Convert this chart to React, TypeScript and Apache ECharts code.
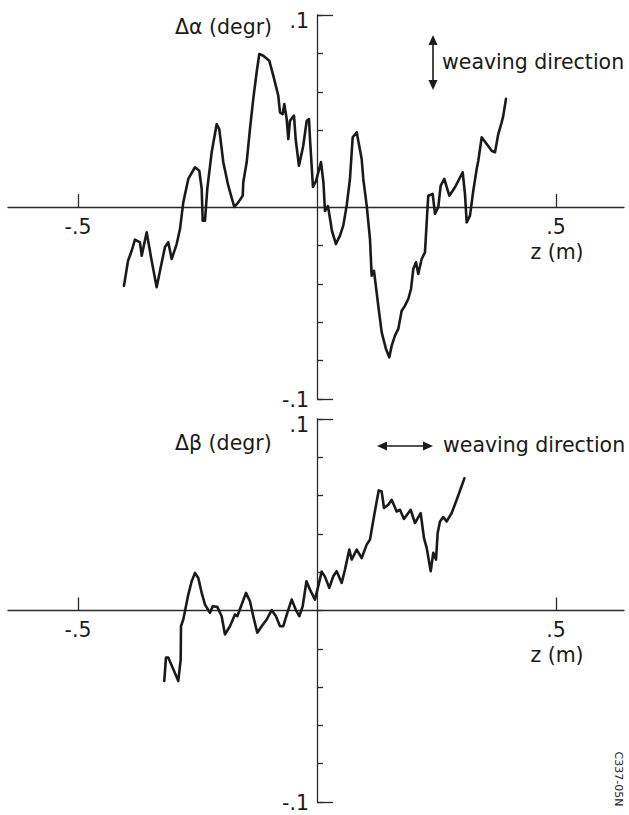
import { useEffect, useRef } from "react";
import * as echarts from "echarts";

// ---- data (z in m, angle deviation in degr) ----
const alphaZ = [
  -0.4038, -0.3954, -0.3877, -0.3808, -0.3703, -0.3667, -0.3563, -0.3473, -0.3354, -0.3285,
  -0.318, -0.3111, -0.304, -0.2935, -0.2866, -0.2797, -0.2692, -0.2552, -0.2462, -0.2412,
  -0.2391, -0.2343, -0.2295, -0.2203, -0.2098, -0.2044, -0.196, -0.1856, -0.173, -0.1646,
  -0.1554, -0.1542, -0.1471, -0.1402, -0.1333, -0.1262, -0.1207, -0.1123, -0.0998, -0.0914,
  -0.081, -0.0774, -0.0718, -0.0684, -0.0634, -0.06, -0.0565, -0.0481, -0.0446, -0.0377,
  -0.0287, -0.0215, -0.0167, -0.0146, -0.0084, -0.0021, 0.0084, 0.0136, 0.0167, 0.023,
  0.0314, 0.0397, 0.0481, 0.055, 0.0621, 0.069, 0.0747, 0.0831, 0.0935, 0.0969,
  0.104, 0.1109, 0.1144, 0.1192, 0.1282, 0.1354, 0.1444, 0.1513, 0.1563, 0.1632,
  0.1701, 0.1772, 0.1841, 0.191, 0.1967, 0.2015, 0.2071, 0.2119, 0.219, 0.2259,
  0.2295, 0.2328, 0.242, 0.2469, 0.2538, 0.2588, 0.2663, 0.2768, 0.2887, 0.3048,
  0.3096, 0.3132, 0.3201, 0.327, 0.3341, 0.3375, 0.3446, 0.355, 0.3655, 0.3724,
  0.3793, 0.3864, 0.3898, 0.3954,
];
const alphaV = [
  -0.0411, -0.0281, -0.0228, -0.017, -0.0184, -0.0254, -0.0132, -0.026, -0.0418, -0.0333,
  -0.0208, -0.0184, -0.0271, -0.0193, -0.0115, 0.0024, 0.0146, 0.0207, 0.0189, 0.0094,
  -0.0071, -0.0071, 0.0094, 0.0285, 0.0432, 0.0406, 0.0233, 0.0111, 0.0, 0.0024,
  0.0059, 0.0129, 0.0233, 0.0406, 0.0563, 0.0702, 0.0797, 0.0788, 0.0762, 0.0684,
  0.058, 0.0493, 0.0484, 0.0536, 0.0458, 0.0354, 0.0449, 0.0476, 0.0354, 0.0215,
  0.0319, 0.0449, 0.0458, 0.0354, 0.0104, 0.0135, 0.0234, 0.0125, -0.0021, 0.0005,
  -0.0125, -0.0193, -0.0149, -0.0097, 0.0007, 0.0146, 0.0363, 0.0389, 0.025, 0.0146,
  0.0007, -0.0167, -0.0358, -0.0332, -0.0514, -0.0653, -0.074, -0.0783, -0.0722, -0.067,
  -0.0635, -0.054, -0.0514, -0.0479, -0.0427, -0.0323, -0.0288, -0.0349, -0.0271, -0.0236,
  -0.008, 0.0059, 0.0068, -0.0036, 0.0, 0.0111, 0.0146, 0.0059, 0.0103, 0.0181,
  0.0068, -0.008, -0.0045, 0.0085, 0.0198, 0.0241, 0.0363, 0.0328, 0.0293, 0.0285,
  0.038, 0.0441, 0.0476, 0.0563,
];
const betaZ = [
  -0.3195, -0.3159, -0.3111, -0.3006, -0.2902, -0.2851, -0.2845, -0.2797, -0.2762, -0.2692,
  -0.2621, -0.2552, -0.2483, -0.2412, -0.2343, -0.2238, -0.2182, -0.2086, -0.2029, -0.1994,
  -0.1925, -0.182, -0.1715, -0.1667, -0.1575, -0.1485, -0.1402, -0.1333, -0.1249, -0.1157,
  -0.1052, -0.0948, -0.0858, -0.0774, -0.0705, -0.0621, -0.0529, -0.0446, -0.037, -0.0299,
  -0.022, -0.0146, -0.0042, 0.0027, 0.0098, 0.0167, 0.0257, 0.0341, 0.0412, 0.0517,
  0.0586, 0.0676, 0.0726, 0.0831, 0.0935, 0.104, 0.1109, 0.1192, 0.1291, 0.1354,
  0.1402, 0.1492, 0.1563, 0.1667, 0.1736, 0.182, 0.196, 0.205, 0.2169, 0.2238,
  0.2295, 0.2379, 0.2433, 0.249, 0.2525, 0.2573, 0.2642, 0.2713, 0.2818, 0.2923,
  0.3086,
];
const betaV = [
  -0.0368, -0.0246, -0.0246, -0.0307, -0.0368, -0.0255, -0.0082, -0.0047, -0.0004, 0.0083,
  0.0153, 0.0196, 0.017, 0.0092, 0.0031, -0.0012, 0.0022, 0.0019, -0.0012, -0.003,
  -0.0125, -0.0082, -0.0021, -0.003, 0.0031, 0.0092, 0.0048, -0.003, -0.0116, -0.0082,
  -0.0047, 0.0002, -0.003, -0.0082, -0.0082, -0.0012, 0.0057, 0.0005, -0.003, 0.0022,
  0.0153, 0.0109, 0.0057, 0.0127, 0.0203, 0.0177, 0.0118, 0.0179, 0.0205, 0.0144,
  0.0214, 0.0318, 0.0266, 0.0318, 0.0274, 0.0344, 0.037, 0.0491, 0.0627, 0.0621,
  0.0535, 0.0552, 0.0578, 0.0517, 0.0526, 0.0478, 0.0526, 0.0457, 0.0509, 0.0379,
  0.0327, 0.0205, 0.0301, 0.0266, 0.0405, 0.0465, 0.0488, 0.0465, 0.0509, 0.0578,
  0.0691,
];

const xTickValues = [-0.5, 0.5];
const xTickLabels = ["-.5", ".5"];
const yTickValues = [-0.1, 0.1];
const yTickLabels = ["-.1", ".1"];
const panelTitles = ["\u0394\u03b1 (degr)", "\u0394\u03b2 (degr)"];

// ---- styling / layout ----
const FONT = "DejaVu Sans";
const FS = 20.5;
const INK = "#1a1a1a";
const AXIS = "#2a2a2a";
const X_MIN = -0.6464;
const X_MAX = 0.6423;
const END_TICK = 0.0335;
const GRID_LEFT = 8;
const GRID_W = 616;
const GRIDS = [
  { top: 15, height: 384 },
  { top: 419, height: 383 },
];

// pixel offset from the grid edge to the value 0 (axes cross at the origin)
const Y_AXIS_SHIFT = -(GRID_W * (0 - X_MIN)) / (X_MAX - X_MIN);

function xAxisCfg(gridIndex: number) {
  const g = GRIDS[gridIndex];
  return {
    type: "value",
    gridIndex,
    min: X_MIN,
    max: X_MAX,
    position: "bottom",
    offset: -g.height / 2,
    axisLine: { onZero: false, lineStyle: { color: AXIS, width: 1.3 } },
    axisTick: {
      show: true,
      inside: true,
      length: 13,
      customValues: xTickValues,
      lineStyle: { color: AXIS, width: 1.3 },
    },
    axisLabel: {
      customValues: xTickValues,
      formatter: (v: number) => xTickLabels[xTickValues.findIndex((t) => Math.abs(t - v) < 1e-9)] ?? "",
      margin: 9,
      fontFamily: FONT,
      fontSize: FS,
      color: INK,
    },
    splitLine: { show: false },
  };
}

function yAxisCfg(gridIndex: number) {
  return {
    type: "value",
    gridIndex,
    min: -0.1,
    max: 0.1,
    interval: 0.02,
    position: "left",
    offset: Y_AXIS_SHIFT,
    axisLine: { onZero: false, lineStyle: { color: AXIS, width: 1.3 } },
    axisTick: { show: true, inside: true, length: 6, lineStyle: { color: AXIS, width: 1.3 } },
    axisLabel: {
      customValues: yTickValues,
      margin: 8,
      formatter: (v: number) => {
        const i = yTickValues.findIndex((t) => Math.abs(t - v) < 1e-9);
        if (i < 0) return "";
        return v > 0 ? `{t|${yTickLabels[i]}}` : `{b|${yTickLabels[i]}}`;
      },
      rich: {
        t: { fontFamily: FONT, fontSize: FS, color: INK, padding: [11, 0, 0, 0] },
        b: { fontFamily: FONT, fontSize: FS, color: INK, padding: [2, 0, 0, 0] },
      },
    },
    splitLine: { show: false },
  };
}

function endTicks() {
  return {
    silent: true,
    symbol: ["none", "none"],
    label: { show: false },
    emphasis: { disabled: true },
    lineStyle: { color: AXIS, width: 1.3, type: "solid" },
    data: [
      [{ coord: [0, 0.1] }, { coord: [END_TICK, 0.1] }],
      [{ coord: [0, -0.1] }, { coord: [END_TICK, -0.1] }],
    ],
  };
}

function arrowHead(tip: [number, number], dir: [number, number]) {
  const L = 10;
  const W = 4.5;
  const bx = tip[0] - dir[0] * L;
  const by = tip[1] - dir[1] * L;
  const px = -dir[1];
  const py = dir[0];
  return {
    type: "polygon",
    shape: { points: [tip, [bx + px * W, by + py * W], [bx - px * W, by - py * W]] },
    style: { fill: INK },
  };
}

function textEl(text: string, x: number, y: number, align = "left", size = FS, rotation = 0) {
  return {
    type: "text",
    x,
    y,
    rotation,
    style: {
      text,
      fontFamily: FONT,
      fontSize: size,
      fill: INK,
      align,
      verticalAlign: "middle",
    },
  };
}

export default function App() {
  const ref = useRef<HTMLDivElement>(null);
  useEffect(() => {
    if (!ref.current) return;
    const chart = echarts.init(ref.current, null, { renderer: "svg" });
    const alphaData = alphaZ.map((z, i) => [z, alphaV[i]]);
    const betaData = betaZ.map((z, i) => [z, betaV[i]]);
    const lineStyle = { color: INK, width: 2.6, join: "round", cap: "round" };
    chart.setOption({
      animation: false,
      backgroundColor: "#ffffff",
      grid: GRIDS.map((g) => ({
        left: GRID_LEFT,
        width: GRID_W,
        top: g.top,
        height: g.height,
        containLabel: false,
        outerBoundsMode: "none",
      })),
      xAxis: [xAxisCfg(0), xAxisCfg(1)],
      yAxis: [yAxisCfg(0), yAxisCfg(1)],
      series: [
        {
          type: "line",
          xAxisIndex: 0,
          yAxisIndex: 0,
          data: alphaData,
          showSymbol: false,
          lineStyle,
          silent: true,
          markLine: endTicks(),
        },
        {
          type: "line",
          xAxisIndex: 1,
          yAxisIndex: 1,
          data: betaData,
          showSymbol: false,
          lineStyle,
          silent: true,
          markLine: endTicks(),
        },
      ],
      graphic: [
        textEl(panelTitles[0], 175, 27),
        textEl(panelTitles[1], 175, 443),
        textEl("weaving direction", 442, 62),
        textEl("weaving direction", 443, 445),
        textEl("z (m)", 557, 252, "center"),
        textEl("z (m)", 557, 655, "center"),
        textEl("C337-05N", 618, 779, "center", 11, -Math.PI / 2),
        // vertical double arrow (top panel)
        { type: "line", shape: { x1: 433, y1: 42, x2: 433, y2: 83 }, style: { stroke: INK, lineWidth: 1.6 } },
        arrowHead([433, 35], [0, -1]),
        arrowHead([433, 90], [0, 1]),
        // horizontal double arrow (bottom panel)
        { type: "line", shape: { x1: 384, y1: 446, x2: 426, y2: 446 }, style: { stroke: INK, lineWidth: 1.6 } },
        arrowHead([377, 446], [-1, 0]),
        arrowHead([433, 446], [1, 0]),
      ],
    });
    return () => chart.dispose();
  }, []);
  return (
    <div
      ref={ref}
      style={{ position: "fixed", left: 0, top: 0, width: 629, height: 815, background: "#fff" }}
    />
  );
}
